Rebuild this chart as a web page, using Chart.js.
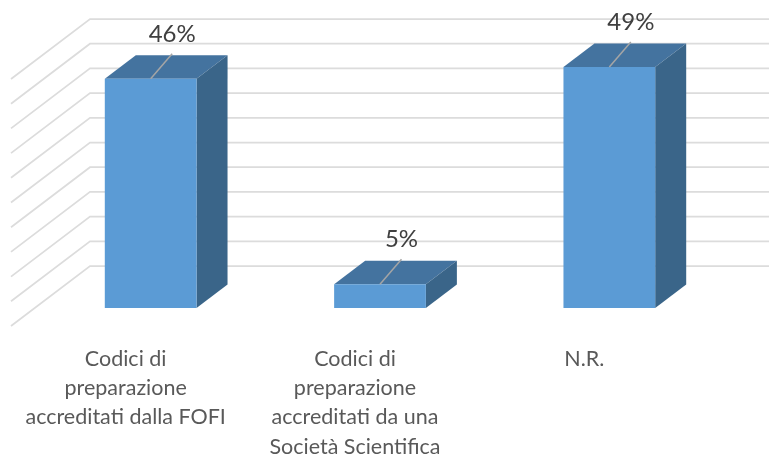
<!DOCTYPE html>
<html>
<head>
<meta charset="utf-8">
<style>
    html, body { margin: 0; padding: 0; background: #fff; }
    #wrap { width: 769px; height: 454px; }
</style>
<script src="https://cdn.jsdelivr.net/npm/chart.js@4"></script>
</head>
<body>
<div id="wrap"><canvas id="chart" width="769" height="454"></canvas></div>
<script>
    const categories = [
        ['Codici di', 'preparazione', 'accreditati dalla FOFI'],
        ['Codici di', 'preparazione', 'accreditati da una', 'Società Scientifica'],
        ['N.R.']
    ];
    const values = [46.4, 4.8, 48.8];
    const gridValues = [0, 5, 10, 15, 20, 25, 30, 35, 40, 45, 50];

    // 3D look, offsets in pixels
    const barDepth = { x: 31, y: -23.5 };
    const wall = { x: 90, y: -42, sideX: 11, sideY: 60, right: 769 };

    function poly(ctx, points, color) {
        ctx.beginPath();
        points.forEach(function(p, i) {
            if (i === 0) ctx.moveTo(p[0], p[1]);
            else ctx.lineTo(p[0], p[1]);
        });
        ctx.closePath();
        ctx.fillStyle = color;
        ctx.fill();
    }

    const fake3d = {
        id: 'fake3d',
        beforeDatasetsDraw(chart) {
            const ctx = chart.ctx;
            const y = chart.scales.y;
            ctx.save();

            // back and side wall lines
            ctx.strokeStyle = '#dcdcdc';
            ctx.lineWidth = 1.75;
            gridValues.forEach(function(v) {
                const py = y.getPixelForValue(v) + wall.y;
                ctx.beginPath();
                ctx.moveTo(wall.sideX, py + wall.sideY);
                ctx.lineTo(wall.x, py);
                ctx.lineTo(wall.right, py);
                ctx.stroke();
            });

            // top and side faces of the bars
            chart.getDatasetMeta(0).data.forEach(function(bar) {
                const half = bar.width / 2;
                const l = bar.x - half, r = bar.x + half;
                const t = bar.y, b = bar.base;
                const dx = barDepth.x, dy = barDepth.y;
                poly(ctx, [[l, t], [r, t], [r + dx, t + dy], [l + dx, t + dy]], '#44739f');
                poly(ctx, [[r, t], [r + dx, t + dy], [r + dx, b + dy], [r, b]], '#3a6589');
            });
            ctx.restore();
        },
        afterDatasetsDraw(chart) {
            const ctx = chart.ctx;
            ctx.save();
            ctx.textAlign = 'center';
            ctx.textBaseline = 'middle';
            ctx.font = '24px Lato';
            chart.getDatasetMeta(0).data.forEach(function(bar, i) {
                // leader line, then the label
                ctx.strokeStyle = '#a5a5a5';
                ctx.lineWidth = 1.5;
                ctx.beginPath();
                ctx.moveTo(bar.x, bar.y);
                ctx.lineTo(bar.x + 21.5, bar.y - 25);
                ctx.stroke();
                ctx.fillStyle = '#404040';
                ctx.fillText(values[i].toFixed(0) + '%', bar.x + 21.5, bar.y - 45);
            });
            ctx.restore();
        }
    };

    new Chart(document.getElementById('chart').getContext('2d'), {
        type: 'bar',
        data: {
            labels: categories,
            datasets: [{
                data: values,
                backgroundColor: '#5b9bd5',
                categoryPercentage: 1,
                barPercentage: 0.4
            }]
        },
        options: {
            responsive: false,
            animation: false,
            layout: { padding: { left: 36, right: 45, top: 61, bottom: 0 } },
            plugins: { legend: { display: false }, tooltip: { enabled: false } },
            scales: {
                x: {
                    grid: { display: false },
                    border: { display: false },
                    afterFit(scale) { scale.height = 146; },
                    ticks: {
                        labelOffset: -25,
                        maxRotation: 0,
                        autoSkip: false,
                        padding: 28,
                        color: '#595959',
                        font: { family: 'Lato', size: 21.5, lineHeight: 1.365 }
                    }
                },
                y: { display: false, min: 0, max: 50 }
            }
        },
        plugins: [fake3d]
    });
</script>
</body>
</html>
